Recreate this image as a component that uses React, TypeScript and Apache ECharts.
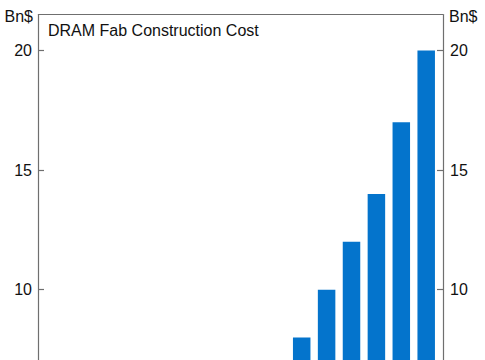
import React, { useEffect, useRef } from "react";
import * as echarts from "echarts";

const categories = [
  "1", "2", "3", "4", "5", "6", "7", "8",
  "9", "10", "11", "12", "13", "14", "15", "16",
];
const costValues = [0.6, 0.8, 1, 1.3, 1.6, 2, 2.5, 3.2, 4.2, 5.5, 8, 10, 12, 14, 17, 20];
const tickValues = [0, 5, 10, 15, 20];
const visibleLabelValues = [10, 15, 20];
const unitLabel = "Bn$";
const titleText = "DRAM Fab Construction Cost";

export default function App() {
  const ref = useRef<HTMLDivElement>(null);
  useEffect(() => {
    if (!ref.current) return;
    const chart = echarts.init(ref.current, undefined, { renderer: "svg" });
    const font = "Liberation Sans, Arial, sans-serif";
    const axisColor = "#6f6f6f";
    const textColor = "#111";
    const fs = 16;
    const yCommon = {
      type: "value" as const,
      min: 0,
      max: 21.5,
      interval: 5,
      splitLine: { show: false },
      axisLine: { show: true, lineStyle: { color: axisColor, width: 1.2 } },
      axisTick: {
        show: true,
        inside: true,
        length: 6,
        customValues: tickValues,
        lineStyle: { color: axisColor, width: 1.2 },
      },
    };
    chart.setOption({
      animation: false,
      grid: { left: 40.25, width: 398.4, top: 14.5, height: 514.5 },
      xAxis: {
        type: "category",
        data: categories,
        axisLine: { show: false },
        axisTick: { show: false },
        axisLabel: { show: false },
      },
      yAxis: [
        {
          ...yCommon,
          position: "left",
          offset: 2.25,
          axisLabel: {
            margin: 6,
            customValues: visibleLabelValues,
            color: textColor,
            fontSize: fs,
            fontFamily: font,
          },
        },
        {
          ...yCommon,
          position: "right",
          offset: 4.35,
          axisLabel: {
            margin: 7,
            customValues: visibleLabelValues,
            color: textColor,
            fontSize: fs,
            fontFamily: font,
          },
        },
      ],
      series: [
        {
          type: "bar",
          data: costValues,
          barWidth: 17.5,
          itemStyle: { color: "#0474cc" },
        },
      ],
      graphic: [
        {
          type: "line",
          shape: { x1: 38, y1: 14.5, x2: 443, y2: 14.5 },
          style: { stroke: axisColor, lineWidth: 1.2 },
        },
        {
          type: "text",
          x: 33,
          y: 16,
          style: {
            text: unitLabel,
            fill: textColor,
            font: `${fs}px ${font}`,
            textAlign: "right",
            textVerticalAlign: "middle",
          },
        },
        {
          type: "text",
          x: 449,
          y: 16,
          style: {
            text: unitLabel,
            fill: textColor,
            font: `${fs}px ${font}`,
            textAlign: "left",
            textVerticalAlign: "middle",
          },
        },
        {
          type: "text",
          x: 48,
          y: 30,
          style: {
            text: titleText,
            fill: textColor,
            font: `${fs}px ${font}`,
            textAlign: "left",
            textVerticalAlign: "middle",
          },
        },
      ],
    });
    return () => chart.dispose();
  }, []);
  return (
    <div
      style={{
        position: "absolute",
        left: 0,
        top: 0,
        width: 485,
        height: 360,
        overflow: "hidden",
        background: "#fff",
      }}
    >
      <div ref={ref} style={{ width: 485, height: 580 }} />
    </div>
  );
}
